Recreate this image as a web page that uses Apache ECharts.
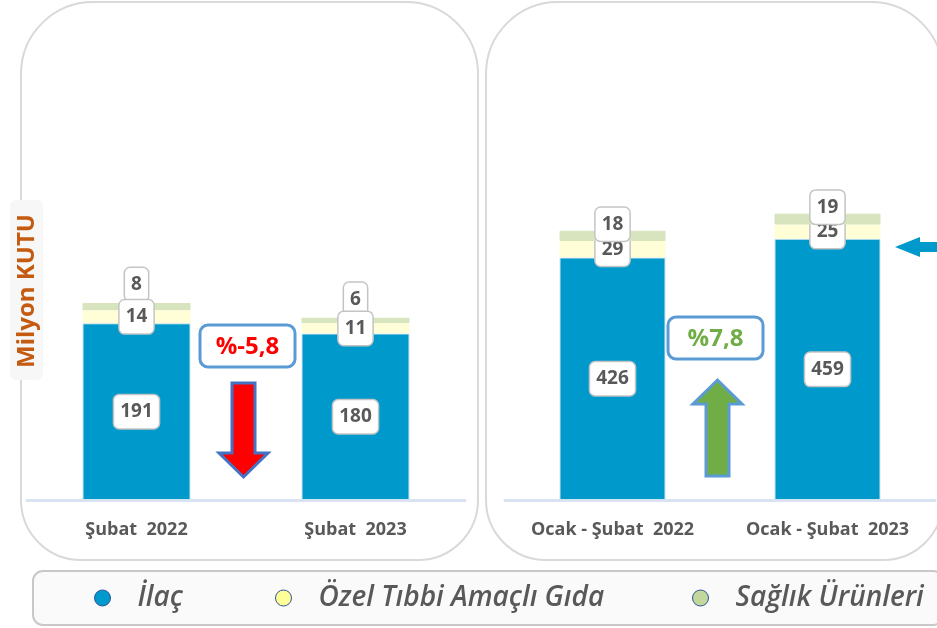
<!DOCTYPE html>
<html>
<head>
<meta charset="utf-8">
<script src="https://cdn.jsdelivr.net/npm/echarts@6/dist/echarts.min.js"></script>
<style>
  html, body { margin: 0; padding: 0; background: #fff; }
  #chart { width: 937px; height: 628px; }
</style>
</head>
<body>
<div id="chart"></div>
<script>
// monthly (Şubat) and cumulative (Ocak - Şubat) values, milyon kutu
const monthCategories = ["Şubat  2022", "Şubat  2023"];
const cumCategories = ["Ocak - Şubat  2022", "Ocak - Şubat  2023"];
const ilacMonth = [191, 180];
const gidaMonth = [14, 11];
const saglikMonth = [8, 6];
const ilacCum = [426, 459];
const gidaCum = [29, 25];
const saglikCum = [18, 19];
const changes = ["%-5,8", "%7,8"];
const seriesNames = ["İlaç", "Özel Tıbbi Amaçlı Gıda", "Sağlık Ürünleri"];

const barColors = ["#0099cc", "#fffed6", "#d7e4bd"];
const legendColors = ["#0099cc", "#ffff99", "#c3d69b"];
const font = "'Open Sans', sans-serif";

const boxLabel = {
  show: true,
  formatter: "{c}",
  color: "#595959",
  fontFamily: font,
  fontWeight: "bold",
  fontSize: 19,
  lineHeight: 22,
  backgroundColor: "#fff",
  borderColor: "#c4c4c4",
  borderWidth: 1.5,
  borderRadius: 5,
  padding: [6, 6, 5, 6]
};

function stack(name, data, axis, color, label, z, width) {
  return {
    name: name,
    type: "bar",
    stack: "s" + axis,
    xAxisIndex: axis,
    yAxisIndex: axis,
    data: data,
    barWidth: width,
    z: z,
    itemStyle: { color: color, borderColor: color === barColors[0] ? "#cfe3f0" : color, borderWidth: 1 },
    label: label,
    emphasis: { disabled: true }
  };
}

function catAxis(idx, cats) {
  return {
    type: "category",
    gridIndex: idx,
    data: cats,
    axisTick: { show: false },
    axisLine: { lineStyle: { color: "#dae3f3", width: 3 } },
    axisLabel: { margin: 21, color: "#595959", fontFamily: font, fontWeight: "bold", fontSize: 18 }
  };
}

function legendItem(i, left) {
  return {
    left: left,
    top: 584,
    padding: 0,
    icon: "circle",
    itemWidth: 16,
    itemHeight: 16,
    selectedMode: false,
    data: [{ name: seriesNames[i], itemStyle: { color: legendColors[i], borderColor: "#2f5597", borderWidth: 1 } }],
    textStyle: { color: "#595959", fontFamily: font, fontStyle: "italic", fontWeight: 600, fontSize: 28, padding: [0, 0, 0, 22] }
  };
}

const chart = echarts.init(document.getElementById("chart"));
chart.setOption({
  animation: false,
  grid: [
    { left: 27, width: 438, top: 130, bottom: 128 },
    { left: 505, width: 430, top: 130, bottom: 128 }
  ],
  xAxis: [catAxis(0, monthCategories), catAxis(1, cumCategories)],
  yAxis: [
    { type: "value", gridIndex: 0, min: 0, max: 400, show: false },
    { type: "value", gridIndex: 1, min: 0, max: 650, show: false }
  ],
  legend: [legendItem(0, 94), legendItem(1, 275), legendItem(2, 692)],
  series: [
    stack(seriesNames[0], ilacMonth, 0, barColors[0], Object.assign({}, boxLabel, { position: "inside" }), 2, 108),
    stack(seriesNames[1], gidaMonth, 0, barColors[1], Object.assign({}, boxLabel, { position: "inside" }), 4, 108),
    stack(seriesNames[2], saglikMonth, 0, barColors[2], Object.assign({}, boxLabel, { position: "top", distance: 2 }), 3, 108),
    stack(seriesNames[0], ilacCum, 1, barColors[0], Object.assign({}, boxLabel, { position: "inside" }), 2, 106),
    stack(seriesNames[1], gidaCum, 1, barColors[1], Object.assign({}, boxLabel, { position: "inside" }), 3, 106),
    stack(seriesNames[2], saglikCum, 1, barColors[2], Object.assign({}, boxLabel, { position: "top", distance: -10 }), 4, 106)
  ],
  graphic: [
    // panel frames
    { type: "rect", z: -10, shape: { x: 21, y: 2, width: 457, height: 558, r: [72, 72, 60, 60] },
      style: { fill: "#fff", stroke: "#d9d9d9", lineWidth: 2 } },
    { type: "rect", z: -10, shape: { x: 486, y: 2, width: 457, height: 558, r: [72, 72, 60, 60] },
      style: { fill: "#fff", stroke: "#d9d9d9", lineWidth: 2 } },
    // y axis name
    { type: "rect", z: 5, shape: { x: 10, y: 200, width: 33, height: 180, r: 6 }, style: { fill: "#f7f7f7" } },
    { type: "text", z: 6, x: 27, y: 291, rotation: Math.PI / 2,
      style: { text: "Milyon KUTU", fill: "#c55a11", font: "bold 24px " + font, align: "center", verticalAlign: "middle" } },
    // change boxes
    { type: "rect", z: 5, shape: { x: 200, y: 325, width: 95, height: 42, r: 8 }, style: { fill: "#fff", stroke: "#5b9bd5", lineWidth: 3 } },
    { type: "text", z: 6, x: 247.5, y: 347,
      style: { text: changes[0], fill: "#ff0000", font: "bold 24px " + font, align: "center", verticalAlign: "middle" } },
    { type: "rect", z: 5, shape: { x: 668, y: 317, width: 95, height: 42, r: 8 }, style: { fill: "#fff", stroke: "#5b9bd5", lineWidth: 3 } },
    { type: "text", z: 6, x: 715.5, y: 339,
      style: { text: changes[1], fill: "#70ad47", font: "bold 24px " + font, align: "center", verticalAlign: "middle" } },
    // arrows
    { type: "polygon", z: 5, shape: { points: [[232, 383], [255, 383], [255, 453], [268, 453], [243.5, 477], [219, 453], [232, 453]] },
      style: { fill: "#ff0000", stroke: "#4472c4", lineWidth: 3 } },
    { type: "polygon", z: 5, shape: { points: [[706, 476], [729, 476], [729, 404], [742, 404], [717.5, 380], [693, 404], [706, 404]] },
      style: { fill: "#70ad47", stroke: "#5b9bd5", lineWidth: 3 } },
    { type: "polygon", z: 5, shape: { points: [[895, 247], [920, 237], [920, 242], [940, 242], [940, 252], [920, 252], [920, 257]] },
      style: { fill: "#0099cc" } },
    // legend frame
    { type: "rect", z: -10, shape: { x: 33, y: 571, width: 910, height: 54, r: 10 },
      style: { fill: "#fafafa", stroke: "#c8c8c8", lineWidth: 2 } }
  ]
});
</script>
</body>
</html>
